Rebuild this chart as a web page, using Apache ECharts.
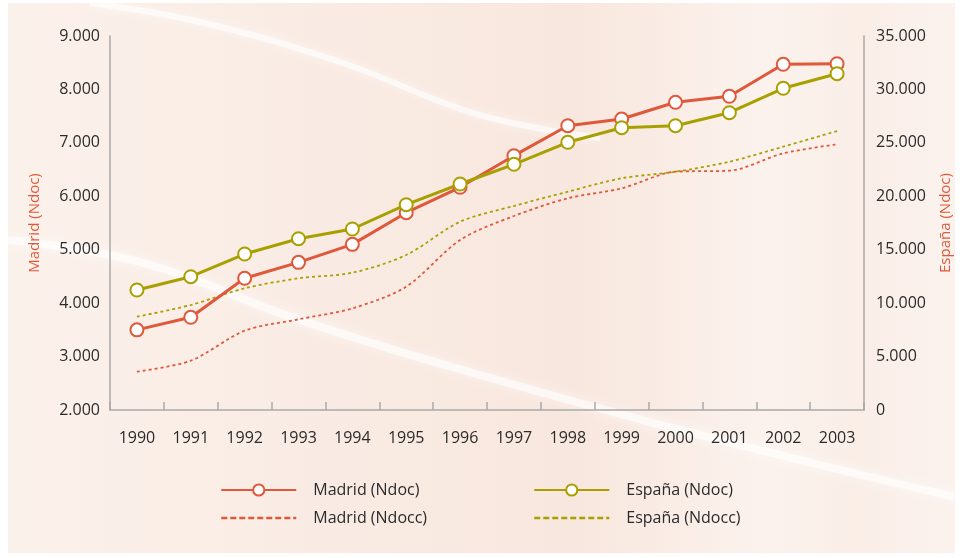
<!DOCTYPE html>
<html>
<head>
<meta charset="utf-8">
<script src="https://cdn.jsdelivr.net/npm/echarts@6/dist/echarts.min.js"></script>
<style>
html,body{margin:0;padding:0;background:#fff;}
#chart{width:963px;height:558px;}
</style>
</head>
<body>
<div id="chart"></div>
<script>
const years = ['1990','1991','1992','1993','1994','1995','1996','1997','1998','1999','2000','2001','2002','2003'];
const madridNdoc  = [3500, 3735, 4465, 4764, 5100, 5693, 6168, 6760, 7321, 7446, 7759, 7871, 8470, 8481];
const espanaNdoc  = [11230, 12474, 14598, 16030, 16938, 19212, 21149, 22993, 25051, 26418, 26605, 27822, 30104, 31471];
const madridNdocc = [2717, 2923, 3484, 3697, 3903, 4308, 5182, 5631, 5962, 6149, 6460, 6479, 6804, 6973];
const espanaNdocc = [8731, 9826, 11389, 12325, 12849, 14505, 17621, 19090, 20429, 21683, 22300, 23236, 24640, 26109];
const leftTicks = {min: 2000, max: 9000, interval: 1000};
const rightTicks = {min: 0, max: 35000, interval: 5000};

const ORANGE = '#e0583a';
const OLIVE = '#a8a000';
const FONT = '"Open Sans", "DejaVu Sans", sans-serif';

function fmt(v){
  if (v === 0) return '0';
  const s = String(Math.round(v));
  return s.replace(/\B(?=(\d{3})+(?!\d))/g, '.');
}

const chart = echarts.init(document.getElementById('chart'), null, {renderer:'canvas'});

const axisLineStyle = {show:true, lineStyle:{color:'#a9a9a9', width:1.5}};
const noSymbol = {color:'rgba(0,0,0,0)', borderColor:'rgba(0,0,0,0)', borderWidth:0};
const legendDash = {width:2.5, type:[6,3]};

const option = {
  animation: false,
  backgroundColor: '#ffffff',
  textStyle: {fontFamily: FONT},
  graphic: [
    {type:'rect', z:-10, silent:true, shape:{x:8, y:3, width:947, height:550},
     style:{fill:new echarts.graphic.LinearGradient(0,0,1,0,[
       {offset:0, color:'#fbf1eb'},{offset:0.35,color:'#f9ebe3'},{offset:0.6,color:'#f8e7de'},
       {offset:0.8,color:'#fbf2ed'},{offset:0.9,color:'#faeee7'},{offset:1,color:'#fbf2ee'}])}},
    {type:'polyline', z:-9, silent:true,
     shape:{points:[[90,3],[200,22],[340,62],[480,115],[600,138]], smooth:0.4},
     style:{stroke:'rgba(255,255,255,0.6)', lineWidth:6, fill:null, shadowBlur:10, shadowColor:'rgba(255,255,255,0.9)'}},
    {type:'polyline', z:-9, silent:true,
     shape:{points:[[8,240],[140,262],[300,320],[480,375],[700,435],[955,497]], smooth:0.4},
     style:{stroke:'rgba(255,255,255,0.6)', lineWidth:8, fill:null, shadowBlur:12, shadowColor:'rgba(255,255,255,0.9)'}}
  ],
  grid: {left:110, right:99, top:36, bottom:148, containLabel:false},
  legend: [
    {left:220, top:482, orient:'vertical', padding:0, itemWidth:75, itemHeight:14, itemGap:12,
     textStyle:{fontFamily:FONT, fontSize:16, color:'#2b2b2b', padding:[0,0,0,12]},
     data:[{name:'Madrid (Ndoc)'},{name:'Madrid (Ndocc)', itemStyle:noSymbol, lineStyle:legendDash}]},
    {left:533, top:482, orient:'vertical', padding:0, itemWidth:75, itemHeight:14, itemGap:12,
     textStyle:{fontFamily:FONT, fontSize:16, color:'#2b2b2b', padding:[0,0,0,12]},
     data:[{name:'España (Ndoc)'},{name:'España (Ndocc)', itemStyle:noSymbol, lineStyle:legendDash}]}
  ],
  xAxis: {
    type:'category', data: years, boundaryGap:true,
    axisLine: axisLineStyle,
    axisTick:{show:true, inside:true, length:8, lineStyle:{color:'#a9a9a9', width:1.5}},
    axisLabel:{fontFamily:FONT, fontSize:16, color:'#2b2b2b', margin:20},
    splitLine:{show:false}
  },
  yAxis: [
    {type:'value', position:'left', min:leftTicks.min, max:leftTicks.max, interval:leftTicks.interval,
     name:'Madrid (Ndoc)', nameLocation:'middle', nameGap:68, nameRotate:90,
     nameTextStyle:{color:ORANGE, fontFamily:FONT, fontSize:15},
     axisLine: axisLineStyle, axisTick:{show:false}, splitLine:{show:false},
     axisLabel:{fontFamily:FONT, fontSize:16, color:'#2b2b2b', margin:10, formatter:fmt}},
    {type:'value', position:'right', min:rightTicks.min, max:rightTicks.max, interval:rightTicks.interval,
     name:'España (Ndoc)', nameLocation:'middle', nameGap:74, nameRotate:90,
     nameTextStyle:{color:ORANGE, fontFamily:FONT, fontSize:15},
     axisLine: axisLineStyle, axisTick:{show:false}, splitLine:{show:false},
     axisLabel:{fontFamily:FONT, fontSize:16, color:'#2b2b2b', margin:12, formatter:fmt}}
  ],
  series: [
    {name:'Madrid (Ndocc)', type:'line', yAxisIndex:0, data:madridNdocc, smooth:0.3,
     symbol:'none', showSymbol:false, color:ORANGE,
     lineStyle:{color:ORANGE, width:1.8, type:[3,3]}},
    {name:'España (Ndocc)', type:'line', yAxisIndex:1, data:espanaNdocc, smooth:0.3,
     symbol:'none', showSymbol:false, color:OLIVE,
     lineStyle:{color:OLIVE, width:1.8, type:[3,3]}},
    {name:'Madrid (Ndoc)', type:'line', yAxisIndex:0, data:madridNdoc,
     symbol:'circle', symbolSize:13, color:ORANGE,
     lineStyle:{color:ORANGE, width:3},
     itemStyle:{color:'#ffffff', borderColor:ORANGE, borderWidth:2}},
    {name:'España (Ndoc)', type:'line', yAxisIndex:1, data:espanaNdoc,
     symbol:'circle', symbolSize:13, color:OLIVE,
     lineStyle:{color:OLIVE, width:3},
     itemStyle:{color:'#ffffff', borderColor:OLIVE, borderWidth:2}}
  ]
};
chart.setOption(option);
</script>
</body>
</html>
